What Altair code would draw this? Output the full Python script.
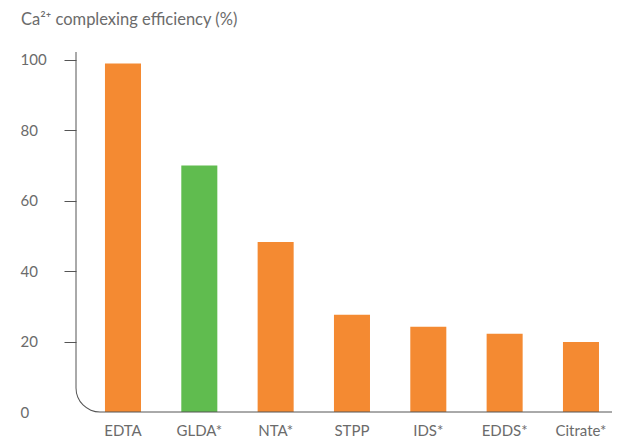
import math
import altair as alt
import pandas as pd

agents = ["EDTA", "GLDA*", "NTA*", "STPP", "IDS*", "EDDS*", "Citrate*"]
efficiency = [99.0, 70.0, 48.3, 27.6, 24.2, 22.2, 19.9]
y_ticks = [0, 20, 40, 60, 80, 100]
title_text = "Ca²⁺ complexing efficiency (%)"

ORANGE = "#F48A32"
GREEN = "#60BC4F"
TEXT = "#6b6b6b"
LINE = "#555555"
FONT = "Lato"

W, H = 536, 360
R = 24

df = pd.DataFrame({"agent": agents, "value": efficiency})
one = pd.DataFrame({"k": [0]})

bars = alt.Chart(df).mark_bar().encode(
    x=alt.X("agent:N", sort=agents,
            scale=alt.Scale(paddingInner=0.528, paddingOuter=0.275, align=0.69),
            axis=alt.Axis(title=None, labelAngle=0, domain=False, ticks=False,
                          labelPadding=11, labelFontSize=15, labelColor=TEXT,
                          labelFont=FONT)),
    y=alt.Y("value:Q", scale=alt.Scale(domain=[0, 102.27], nice=False, zero=True),
            axis=alt.Axis(title=None, values=y_ticks, grid=False, domain=False,
                          tickSize=12, tickColor=LINE,
                          tickOpacity={"condition": {"test": "datum.value === 0", "value": 0}, "value": 1},
                          labelAlign="left", labelPadding=44, labelFontSize=15,
                          labelColor=TEXT, labelFont=FONT, labelBaseline="middle")),
    color=alt.condition(alt.datum.agent == "GLDA*", alt.value(GREEN), alt.value(ORANGE)),
)

vline = alt.Chart(one).mark_rule(color=LINE, strokeWidth=1).encode(
    x=alt.value(0), y=alt.value(0), y2=alt.value(H - R))
hline = alt.Chart(one).mark_rule(color=LINE, strokeWidth=1).encode(
    x=alt.value(R), x2=alt.value(W + 10), y=alt.value(H))
corner = alt.Chart(one).mark_arc(
    theta=math.pi, theta2=1.5 * math.pi, radius=R + 0.5, radius2=R - 0.5, color=LINE
).encode(x=alt.value(R), y=alt.value(H - R))

title = alt.Chart(one).mark_text(
    text=title_text, align="left", baseline="alphabetic", fontSize=16.5,
    font=FONT, color=TEXT
).encode(x=alt.value(-55), y=alt.value(-27))

chart = alt.layer(bars, vline, hline, corner, title).properties(
    width=W, height=H,
    autosize=alt.AutoSizeParams(type="none"),
    padding={"left": 68, "top": 44, "right": 0, "bottom": 31},
).configure_view(stroke=None)

chart.save("out.html", embed_options={"renderer": "svg", "actions": False})
